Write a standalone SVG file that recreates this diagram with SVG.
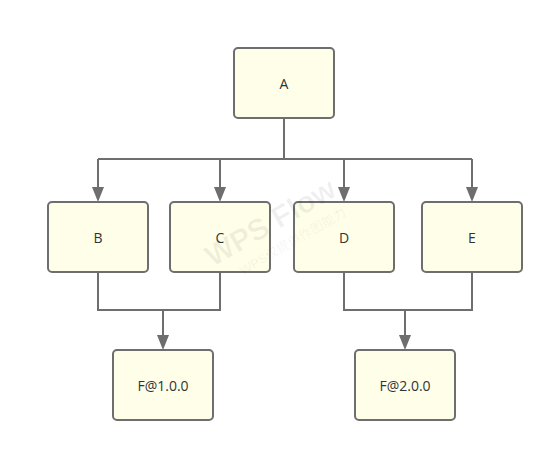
<svg xmlns="http://www.w3.org/2000/svg" width="554" height="451" viewBox="0 0 554 451">
<style>
.n{fill:#fefee9;stroke:#6e6e6e;stroke-width:2}
.t{font-family:"Open Sans","Liberation Sans",sans-serif;font-size:14px;fill:#333;text-anchor:middle;dominant-baseline:central}
.c{fill:none;stroke:#6e6e6e;stroke-width:2}
.a{fill:#6e6e6e}
.wm{font-family:"Liberation Sans","Noto Sans CJK SC",sans-serif;fill:#000;fill-opacity:0.06;text-anchor:middle}
</style>
<rect width="554" height="451" fill="#fff"/>
<g id="connectors">
<path class="c" d="M284,118 V159 M98,159 H472"/>
<path class="c" d="M98,159 V188"/><path class="a" d="M92,187 L104,187 L98,202 Z"/>
<path class="c" d="M220,159 V188"/><path class="a" d="M214,187 L226,187 L220,202 Z"/>
<path class="c" d="M344,159 V188"/><path class="a" d="M338,187 L350,187 L344,202 Z"/>
<path class="c" d="M472,159 V188"/><path class="a" d="M466,187 L478,187 L472,202 Z"/>
<path class="c" d="M98,272 V310 H220 V272 M163,310 V336"/><path class="a" d="M157,335 L169,335 L163,350 Z"/>
<path class="c" d="M344,272 V310 H472 V272 M405,310 V336"/><path class="a" d="M399,335 L411,335 L405,350 Z"/>
</g>
<g id="A"><rect class="n" x="234" y="48" width="100" height="70" rx="4"/><text class="t" x="284" y="83">A</text></g>
<g id="B"><rect class="n" x="48" y="202" width="100" height="70" rx="4"/><text class="t" x="98" y="237">B</text></g>
<g id="C"><rect class="n" x="170" y="202" width="100" height="70" rx="4"/><text class="t" x="220" y="237">C</text></g>
<g id="D"><rect class="n" x="294" y="202" width="100" height="70" rx="4"/><text class="t" x="344" y="237">D</text></g>
<g id="E"><rect class="n" x="422" y="202" width="100" height="70" rx="4"/><text class="t" x="472" y="237">E</text></g>
<g id="F1"><rect class="n" x="113" y="350" width="100" height="70" rx="4"/><text class="t" x="163" y="385">F@1.0.0</text></g>
<g id="F2"><rect class="n" x="355" y="350" width="100" height="70" rx="4"/><text class="t" x="405" y="385">F@2.0.0</text></g>
<g id="watermark" transform="rotate(-30 272 225)">
<text class="wm" x="272" y="232" font-size="30" font-weight="bold">WPS Flow</text>
<text class="wm" x="282" y="254" font-size="13">WPS仅提供作图能力</text>
</g>
</svg>
